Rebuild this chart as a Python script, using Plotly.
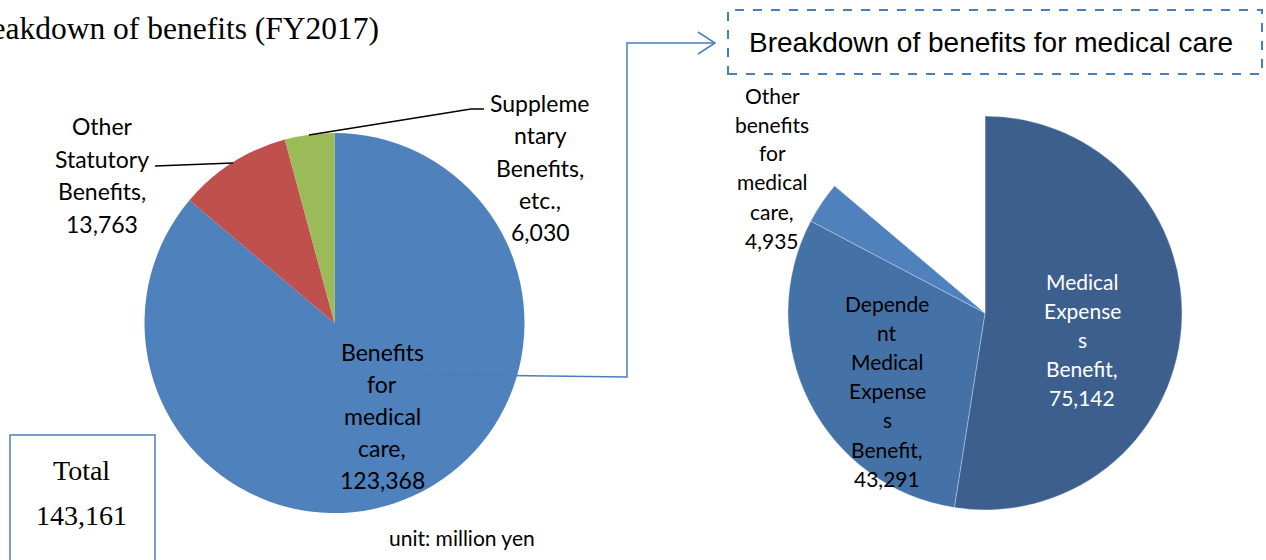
import plotly.graph_objects as go

W, H = 1266, 560

# left pie: breakdown of all benefits (million yen)
benefit_labels = ["Benefits for medical care", "Other Statutory Benefits", "Supplementary Benefits, etc."]
benefit_values = [123368, 13763, 6030]
benefit_colors = ["#4F81BD", "#C0504D", "#9BBB59"]

# right pie: breakdown of benefits for medical care (million yen)
medical_labels = ["Medical Expenses Benefit", "Dependent Medical Expenses Benefit",
                  "Other benefits for medical care", "(rest of total, hidden)"]
medical_values = [75142, 43291, 4935, 13763 + 6030]
medical_colors = ["#3C5F8E", "#4472A7", "#4F81BD", "rgba(0,0,0,0)"]

total_value = 143161


def px(x):
    return x / W


def py(y):
    return 1 - y / H


def dom(cx, cy, r):
    return dict(x=[px(cx - r), px(cx + r)], y=[py(cy + r), py(cy - r)])


fig = go.Figure()

fig.add_trace(go.Pie(
    labels=benefit_labels, values=benefit_values, sort=False,
    direction="clockwise", rotation=0,
    marker=dict(colors=benefit_colors, line=dict(width=0)),
    textinfo="none", hoverinfo="label+value", showlegend=False,
    domain=dom(334.5, 323, 190),
))

fig.add_trace(go.Pie(
    labels=medical_labels, values=medical_values, sort=False,
    direction="clockwise", rotation=0,
    marker=dict(colors=medical_colors, line=dict(width=0.6, color="rgba(255,255,255,0.5)")),
    textinfo="none", hoverinfo="label+value", showlegend=False,
    domain=dom(985, 313, 197),
))

annotations = []


def label(lines, x, y0, step, size, color="black", font="Lato"):
    # one annotation per line so the line spacing follows the original
    for i, t in enumerate(lines):
        annotations.append(dict(
            x=px(x), y=py(y0 + i * step), xref="paper", yref="paper",
            text=t, showarrow=False, xanchor="center", yanchor="middle",
            font=dict(family=font, size=size, color=color),
        ))


def fmt(v):
    return f"{v:,}"


# left pie labels
label(["Other", "Statutory", "Benefits,", fmt(benefit_values[1])], 102, 126, 32.5, 23)
label(["Suppleme", "ntary", "Benefits,", "etc.,", fmt(benefit_values[2])], 540, 103, 32.3, 23)
label(["Benefits", "for", "medical", "care,", fmt(benefit_values[0])], 382, 352, 32, 23)

# right pie labels
label(["Other", "benefits", "for", "medical", "care,", fmt(medical_values[2])], 772, 95, 29, 21)
label(["Depende", "nt", "Medical", "Expense", "s", "Benefit,", fmt(medical_values[1])], 887, 303, 29.2, 21)
label(["Medical", "Expense", "s", "Benefit,", fmt(medical_values[0])], 1082, 281, 29, 21, color="white")

# title (cropped on the left like the original)
annotations.append(dict(
    x=px(381), y=py(28), xref="paper", yref="paper", text="Breakdown of benefits (FY2017)",
    showarrow=False, xanchor="right", yanchor="middle",
    font=dict(family="Liberation Serif", size=31.5, color="black"),
))

annotations.append(dict(
    x=px(991), y=py(43), xref="paper", yref="paper", text="Breakdown of benefits for medical care",
    showarrow=False, xanchor="center", yanchor="middle",
    font=dict(family="Liberation Sans", size=28, color="black"),
))

label(["Total", fmt(total_value)], 82, 470, 45, 28, font="Liberation Serif")

annotations.append(dict(
    x=px(462), y=py(537), xref="paper", yref="paper", text="unit: million yen",
    showarrow=False, xanchor="center", yanchor="middle",
    font=dict(family="Lato", size=21, color="black"),
))

line_blue = "#4A7EBB"
shapes = [
    # leader lines
    dict(type="line", x0=px(155), y0=py(166), x1=px(233), y1=py(163),
         line=dict(color="black", width=1.5)),
    dict(type="path", path=f"M {px(309)},{py(135)} L {px(471)},{py(109)} L {px(484)},{py(109)}",
         line=dict(color="black", width=1.5)),
    # connector to the right pie
    dict(type="path",
         path=f"M {px(403)},{py(374)} L {px(627)},{py(377)} L {px(627)},{py(43)} L {px(715)},{py(43)}",
         line=dict(color=line_blue, width=1.5)),
    dict(type="path", path=f"M {px(698)},{py(32)} L {px(715)},{py(43)} L {px(698)},{py(54)}",
         line=dict(color=line_blue, width=1.5)),
    # dashed heading box
    dict(type="rect", x0=px(728), y0=py(74), x1=px(1262), y1=py(10),
         line=dict(color=line_blue, width=2, dash="dash")),
    # total box
    dict(type="rect", x0=px(10), y0=py(575), x1=px(155), y1=py(435),
         line=dict(color=line_blue, width=1.5)),
]
for s in shapes:
    s.update(xref="paper", yref="paper")

fig.update_layout(
    width=W, height=H,
    margin=dict(l=0, r=0, t=0, b=0),
    paper_bgcolor="white", plot_bgcolor="white",
    annotations=annotations, shapes=shapes,
)

fig.write_html("out.html", config={"displayModeBar": False},
               post_script="document.body.style.margin='0';")
